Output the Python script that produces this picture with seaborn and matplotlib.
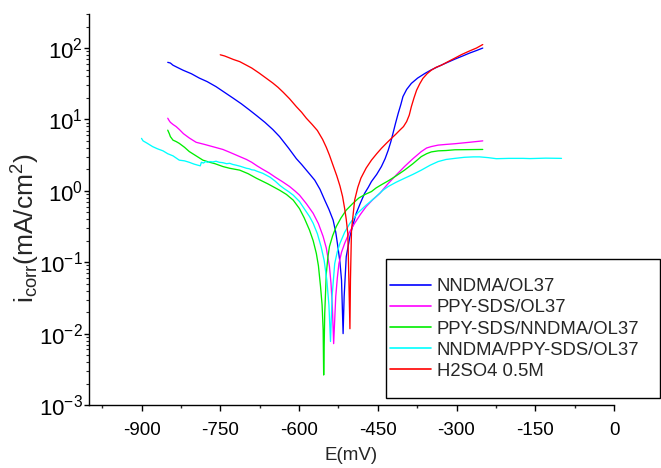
import numpy as np
import pandas as pd
import matplotlib
matplotlib.use("Agg")
import matplotlib.pyplot as plt
import matplotlib.ticker as mticker
from matplotlib.patches import Rectangle
import seaborn as sns

# ---------------- data (E in mV, current density in mA/cm2) ----------------
series_names = ["NNDMA/OL37", "PPY-SDS/OL37", "PPY-SDS/NNDMA/OL37",
                "NNDMA/PPY-SDS/OL37", "H2SO4 0.5M"]
series_colors = ["#0000FF", "#FF00FF", "#00EE00", "#00FFFF", "#FF0000"]

nndma_E = [-850, -845, -840, -832, -821, -805, -790, -775, -758, -742, -726, -710,
           -694, -680, -665, -650, -637, -620, -605, -595, -586, -578, -570, -560,
           -551, -543, -535, -530, -526, -522, -519, -516, -514, -510, -503, -497,
           -491, -483, -475, -468, -462, -452, -443, -436, -430, -425, -421, -416,
           -411, -406, -402, -395, -386, -374, -360, -348, -335, -320, -303, -288,
           -275, -262, -250]
nndma_i = [63.1, 61.7, 57.5, 53.7, 49.0, 43.7, 38.0, 33.9, 28.8, 24.0, 20.0, 16.6,
           13.5, 11.2, 9.12, 7.24, 5.75, 3.98, 2.82, 2.34, 1.95, 1.66, 1.41, 1.05,
           0.741, 0.550, 0.389, 0.263, 0.166, 0.100, 0.0562, 0.0100, 0.0331, 0.120,
           0.229, 0.339, 0.484, 0.676, 0.923, 1.12, 1.35, 1.70, 2.19, 2.82, 3.72,
           4.90, 6.38, 8.91, 12.2, 16.2, 20.9, 26.3, 32.0, 38.0, 44.2, 49.5, 55.0,
           61.7, 70.0, 77.6, 85.1, 92.3, 100.0]

ppy_E = [-850, -847, -845, -840, -834, -828, -820, -809, -796, -780, -765, -745,
         -732, -713, -700, -690, -680, -669, -657, -645, -632, -618, -608, -599,
         -586, -573, -563, -554, -548, -542, -539, -536.5, -534, -530, -527, -524,
         -519, -513, -504, -494, -483, -472, -459, -446, -430, -415, -399, -383,
         -367, -357, -348, -335, -320, -303, -275, -250]
ppy_i = [10.4, 9.55, 9.12, 8.51, 7.94, 7.24, 6.31, 5.50, 4.79, 4.47, 4.17, 3.80,
         3.47, 3.02, 2.75, 2.51, 2.24, 2.00, 1.78, 1.55, 1.35, 1.15, 1.00, 0.871,
         0.661, 0.484, 0.347, 0.229, 0.158, 0.0871, 0.0501, 0.0240, 0.00724, 0.0331,
         0.0603, 0.0955, 0.138, 0.184, 0.263, 0.351, 0.468, 0.603, 0.759, 0.923,
         1.27, 1.66, 2.19, 2.82, 3.55, 3.98, 4.17, 4.37, 4.47, 4.57, 4.79, 5.01]

ppy_nndma_E = [-850, -847, -845, -840, -834, -828, -818, -809, -796, -783, -770,
               -760, -745, -732, -713, -697, -681, -660, -637, -624, -611, -599,
               -590, -580, -573, -567, -563, -559, -556, -554, -553, -551, -548,
               -545, -542, -536, -529, -520, -510, -498, -486, -474, -462, -453,
               -442, -430, -415, -399, -383, -367, -357, -348, -335, -320, -303,
               -275, -250]
ppy_nndma_i = [7.08, 6.31, 5.75, 5.13, 4.90, 4.62, 4.07, 3.55, 3.09, 2.69, 2.51,
               2.40, 2.19, 2.07, 1.95, 1.74, 1.50, 1.26, 1.02, 0.891, 0.741, 0.562,
               0.417, 0.282, 0.200, 0.133, 0.0891, 0.0457, 0.0251, 0.0112, 0.00263,
               0.0191, 0.0692, 0.117, 0.166, 0.234, 0.316, 0.417, 0.537, 0.661,
               0.794, 0.891, 0.977, 1.10, 1.23, 1.38, 1.62, 1.95, 2.40, 3.02, 3.31,
               3.51, 3.63, 3.67, 3.76, 3.78, 3.80]

nndma_ppy_E = [-900, -897, -890, -879, -870, -859, -850, -840, -828, -818, -809,
               -800, -793, -788, -786, -782, -778, -774, -770, -764, -758, -752,
               -745, -738, -732, -726, -720, -712, -706, -700, -695, -690, -685,
               -680, -669, -655, -645, -637, -628, -620, -611, -605, -599, -590,
               -580, -573, -565, -558, -552, -547, -543, -540, -537, -532, -527,
               -522, -513, -503, -488, -472, -456, -440, -430, -415, -399, -383,
               -367, -350, -335, -320, -303, -285, -268, -256, -240, -224, -200,
               -173, -160, -130, -100]
nndma_ppy_i = [5.43, 5.01, 4.68, 4.17, 3.89, 3.63, 3.31, 3.09, 2.69, 2.63, 2.51,
               2.37, 2.29, 2.24, 2.51, 2.45, 2.57, 2.51, 2.57, 2.54, 2.60, 2.51,
               2.48, 2.40, 2.43, 2.34, 2.29, 2.21, 2.14, 2.07, 2.04, 1.97, 1.95,
               1.88, 1.76, 1.55, 1.36, 1.20, 1.07, 0.977, 0.871, 0.785, 0.708,
               0.562, 0.437, 0.351, 0.251, 0.166, 0.105, 0.0562, 0.0251, 0.00776,
               0.0331, 0.0955, 0.141, 0.184, 0.263, 0.351, 0.490, 0.631, 0.794,
               1.02, 1.15, 1.32, 1.50, 1.70, 1.95, 2.29, 2.57, 2.75, 2.85, 2.95,
               2.99, 2.99, 2.92, 2.82, 2.85, 2.85, 2.83, 2.87, 2.85]

h2so4_E = [-750, -742, -735, -725, -713, -700, -690, -676, -662, -650, -640, -630,
           -618, -605, -595, -586, -575, -565, -555, -548, -542, -535, -528, -522,
           -517, -513, -510, -507, -505, -503, -502, -500, -494, -488, -482, -472,
           -462, -452, -443, -433, -424, -416, -408, -401, -395, -390, -386, -381,
           -376, -370, -364, -356, -348, -339, -329, -316, -303, -290, -275, -262,
           -250]
h2so4_i = [80.5, 77.6, 74.1, 69.2, 64.6, 57.5, 52.5, 44.7, 37.6, 32.4, 28.2, 24.0,
           19.5, 15.1, 12.6, 10.4, 8.51, 7.00, 5.25, 4.07, 3.16, 2.26, 1.62, 1.17,
           0.832, 0.562, 0.398, 0.251, 0.0562, 0.0117, 0.0562, 0.282, 0.741, 1.12,
           1.51, 2.09, 2.69, 3.31, 3.94, 4.68, 5.43, 6.17, 7.08, 7.94, 9.33, 11.5,
           15.1, 20.0, 25.7, 31.6, 37.6, 43.7, 49.0, 53.7, 57.5, 64.6, 72.4, 81.3,
           91.2, 100.0, 112.0]

x_ticks = [-900, -750, -600, -450, -300, -150, 0]

# ---------------- build long table ----------------
frames = []
for name, E, I in zip(series_names,
                      [nndma_E, ppy_E, ppy_nndma_E, nndma_ppy_E, h2so4_E],
                      [nndma_i, ppy_i, ppy_nndma_i, nndma_ppy_i, h2so4_i]):
    frames.append(pd.DataFrame({"E": E, "i": I, "series": name}))
df = pd.concat(frames, ignore_index=True)

# ---------------- style ----------------
sns.set_style("ticks")
plt.rcParams["font.family"] = ["Liberation Sans", "DejaVu Sans"]
plt.rcParams["mathtext.default"] = "regular"
plt.rcParams["axes.unicode_minus"] = False
plt.rcParams["axes.linewidth"] = 1.0

fig = plt.figure(figsize=(6.61, 4.68), dpi=100)
ax = fig.add_axes([89 / 661, 1 - 405 / 468, (614 - 89) / 661, (405 - 14) / 468])

palette = dict(zip(series_names, series_colors))
sns.lineplot(data=df, x="E", y="i", hue="series", hue_order=series_names,
             palette=palette, estimator=None, sort=False,
             linewidth=0.95, ax=ax, legend=True)

ax.set_yscale("log")
ax.set_xlim(-1000, 0)
ax.set_ylim(1e-3, 300)

ax.set_xticks(x_ticks)
ax.set_xticklabels([str(t) for t in x_ticks])
ax.xaxis.set_minor_locator(mticker.MultipleLocator(75))
ax.yaxis.set_major_locator(mticker.LogLocator(base=10, numticks=10))
ax.yaxis.set_minor_locator(mticker.LogLocator(base=10, subs=np.arange(2, 10), numticks=20))
ax.yaxis.set_minor_formatter(mticker.NullFormatter())

ax.tick_params(axis="x", which="major", direction="out", length=4, width=1,
               labelsize=13.5, pad=8, colors="black")
ax.tick_params(axis="x", which="minor", direction="out", length=2.5, width=1)
ax.tick_params(axis="y", which="major", direction="out", length=3.5, width=1,
               labelsize=16, pad=1, colors="black")
ax.tick_params(axis="y", which="minor", direction="out", length=2, width=0.8)

for s in ["top", "right"]:
    ax.spines[s].set_visible(False)
for s in ["left", "bottom"]:
    ax.spines[s].set_color("black")

ax.set_xlabel("E(mV)", fontsize=13.5)
ax.xaxis.set_label_coords(0.5, -0.107)
ax.set_ylabel(r"i$_{corr}$(mA/cm$^{2}$)", fontsize=19)
ax.yaxis.set_label_coords(-0.09, 0.453)

# legend: entries without frame, frame drawn as a rectangle
handles, labels = ax.get_legend_handles_labels()
leg = ax.legend(handles, labels, loc="center left",
                bbox_to_anchor=(390 / 661, 1 - 329 / 468),
                bbox_transform=fig.transFigure,
                fontsize=13.3, frameon=False, handlelength=2.2,
                handletextpad=0.32, borderpad=0, labelspacing=0.22,
                borderaxespad=0)
for h in leg.get_lines():
    h.set_linewidth(1.2)
fig.patches.append(Rectangle((386 / 661, 1 - 398 / 468), 273.5 / 661, 139 / 468,
                             transform=fig.transFigure, fill=False,
                             edgecolor="black", linewidth=1.0))

fig.savefig("out.png", dpi=100)
